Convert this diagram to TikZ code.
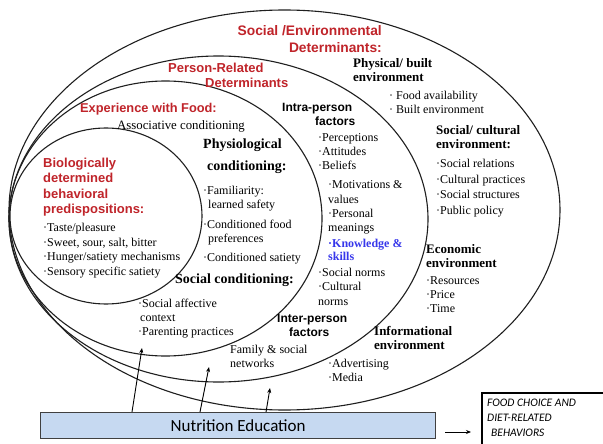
\documentclass[tikz,border=0pt]{standalone}
\usepackage{fontspec}
\setmainfont{Liberation Serif}
\newfontfamily\hsans{Liberation Sans}
\newfontfamily\calf{Carlito}
\usetikzlibrary{arrows.meta}
\definecolor{redc}{RGB}{192,36,42}
\definecolor{bluec}{RGB}{55,55,235}
\definecolor{boxfill}{RGB}{198,217,241}
\begin{document}
\begin{tikzpicture}[x=1pt,y=-1pt,
  ring/.style={draw=black!88,line width=1.1pt},
  txt/.style={anchor=north west,inner sep=0pt,align=left},
  redh/.style={txt,text=redc,font=\hsans\bfseries\fontsize{13}{15.5}\selectfont,yshift=4.6pt},
  serh/.style={txt,font=\bfseries\fontsize{13}{14}\selectfont,yshift=4.6pt},
  sanh/.style={txt,font=\hsans\bfseries\fontsize{12}{14.5}\selectfont,yshift=4.2pt},
  item/.style={txt,font=\fontsize{12}{14.3}\selectfont,yshift=4.2pt},
  arr/.style={draw=black,line width=0.9pt,-{Stealth[length=5pt,width=4pt]}}
]
\useasboundingbox (0,0) rectangle (603,444);
\fill[white] (0,0) rectangle (603,444);

% nested ellipses
\draw[ring] (284.5,210) ellipse [x radius=275.5pt, y radius=200pt];
\draw[ring] (218.5,219) ellipse [x radius=209.5pt, y radius=163pt];
\draw[ring] (165.5,218.5) ellipse [x radius=156.5pt, y radius=137.5pt];
\draw[ring] (106,216) ellipse [x radius=96pt, y radius=88pt];

% red headings
\node[redh,anchor=north east,align=right,font=\hsans\bfseries\fontsize{13.8}{17}\selectfont,yshift=0.2pt] (soc) at (382,30) {Social /Environmental\\Determinants:};
\node[redh] (pers) at (168,67) {Person-Related\\\hspace{37pt}Determinants};
\node[redh,font=\hsans\bfseries\fontsize{12.8}{15}\selectfont] (expf) at (80,108) {Experience with Food:};
\node[item,font=\fontsize{12.8}{15}\selectfont] (assoc) at (117,125) {Associative conditioning};
\node[redh] (bio) at (43,162) {Biologically\\determined\\behavioral\\predispositions:};
\node[item,font=\fontsize{12}{14.7}\selectfont] (bioi) at (43,227) {·Taste/pleasure\\·Sweet, sour, salt, bitter\\·Hunger/satiety mechanisms\\·Sensory specific satiety};

% experience with food
\node[serh,font=\bfseries\fontsize{14}{16}\selectfont,yshift=5pt] (phys) at (203,148) {Physiological\\[6pt]\hspace{4pt}conditioning:};
\node[item,font=\fontsize{12}{14}\selectfont] (physi) at (203,190) {·Familiarity:\\\hspace{5pt}learned safety\\[6pt]·Conditioned food\\\hspace{5pt}preferences\\[5pt]·Conditioned satiety};
\node[serh,font=\bfseries\fontsize{14}{16}\selectfont,yshift=5pt] (socc) at (175,283) {Social conditioning:};
\node[item,font=\fontsize{12}{14}\selectfont] (socci) at (138,303) {·Social affective\\\hspace{2pt}context\\·Parenting practices};

% person-related
\node[sanh] (intra) at (282,107) {Intra-person\\\hspace{33pt}factors};
\node[item,font=\fontsize{12}{14}\selectfont] (intra1) at (318,138) {·Perceptions\\·Attitudes\\·Beliefs};
\node[item] (intra2) at (328,185) {·Motivations \&\\values\\·Personal\\meanings};
\node[item,text=bluec,font=\bfseries\fontsize{12}{13.5}\selectfont] (know) at (328,243) {·Knowledge \&\\skills};
\node[item,font=\fontsize{12}{14.5}\selectfont] (intra3) at (318,272) {·Social norms\\·Cultural\\norms};
\node[sanh,font=\hsans\bfseries\fontsize{12}{14}\selectfont] (inter) at (277,318) {Inter-person\\\hspace{12pt}factors};
\node[item,font=\fontsize{12}{14}\selectfont] (fam) at (230,349) {Family \& social\\networks};

% social / environmental
\node[serh] (physb) at (353,63) {Physical/ built\\environment};
\node[item,font=\fontsize{12}{14}\selectfont] (physbi) at (389,95) {· Food availability\\· Built environment};
\node[serh] (scult) at (436,130) {Social/ cultural\\environment:};
\node[item,font=\fontsize{12}{15.7}\selectfont] (sculti) at (436,163) {·Social relations\\·Cultural practices\\·Social structures\\·Public policy};
\node[serh,font=\bfseries\fontsize{13}{13.5}\selectfont] (econ) at (426,249) {Economic\\environment};
\node[item,font=\fontsize{12}{14}\selectfont] (econi) at (426,281) {·Resources\\·Price\\·Time};
\node[serh,font=\bfseries\fontsize{13}{13.5}\selectfont] (info) at (374,331) {Informational\\environment};
\node[item,font=\fontsize{12}{14}\selectfont] (infoi) at (328,363) {·Advertising\\·Media};

% nutrition education box
\node[draw=black!75,line width=1.3pt,fill=boxfill,anchor=north west,inner sep=0pt,
  minimum width=395pt,minimum height=26pt,font=\calf\fontsize{17}{20}\selectfont] (ne) at (40,412) {Nutrition Education};

% food choice box
\node[draw=black,line width=2pt,anchor=north west,inner sep=0pt,minimum width=140pt,minimum height=70pt] (fc) at (481,392) {};
\node[txt,font=\calf\itshape\fontsize{11.5}{15}\selectfont,yshift=4pt] (fct) at (487,403) {FOOD CHOICE AND\\DIET-RELATED\\\hspace{4pt}BEHAVIORS};

% arrows
\coordinate (s1) at (132,412); \coordinate (e1) at (142,348);
\coordinate (s2) at (200,412); \coordinate (e2) at (209,367);
\coordinate (s3) at (266,412); \coordinate (e3) at (270,388);
\coordinate (s4) at (445,432); \coordinate (e4) at (471,432);
\draw[arr] (s1) -- (e1);
\draw[arr] (s2) -- (e2);
\draw[arr] (s3) -- (e3);
\draw[arr] (s4) -- (e4);
\end{tikzpicture}
\end{document}
